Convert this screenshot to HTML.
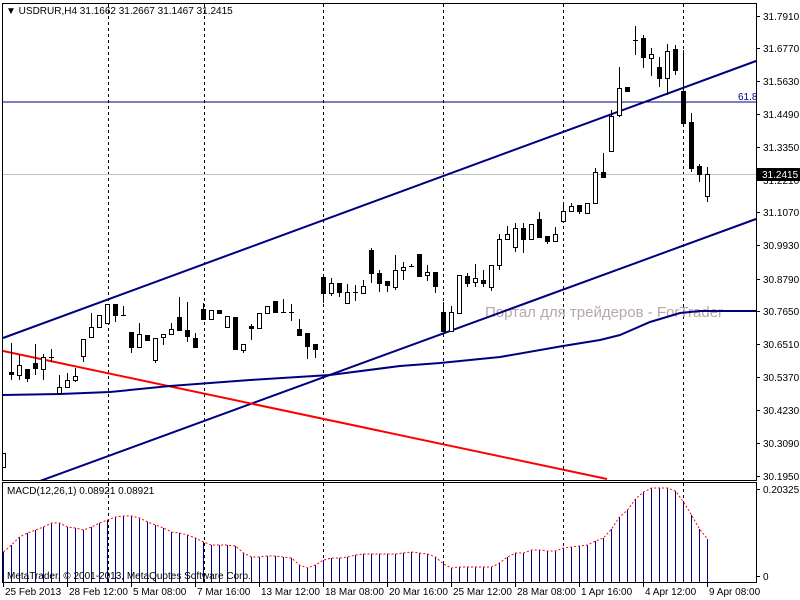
<!DOCTYPE html>
<html><head><meta charset="utf-8"><style>
html,body{margin:0;padding:0;background:#fff;}
svg{display:block;font-family:"Liberation Sans",sans-serif;font-size:10px;}
</style></head><body>
<svg id="s" width="800" height="600" xmlns="http://www.w3.org/2000/svg">
<rect width="800" height="600" fill="#fff"/>
<defs><clipPath id="c1"><rect x="3" y="4" width="753" height="476"/></clipPath></defs>
<g id="grid"></g>
<g clip-path="url(#c1)">
<text x="485" y="317" fill="#b4a8a8" font-size="15">Портал для трейдеров - ForTrader</text>
<line x1="3" y1="102" x2="756" y2="102" stroke="#000080" stroke-width="1"/>
<line x1="3" y1="174.5" x2="756" y2="174.5" stroke="#c0c0c0" stroke-width="1"/>
<line x1="3" y1="338" x2="756" y2="61" stroke="#000080" stroke-width="2"/>
<line x1="40" y1="481" x2="756" y2="219" stroke="#000080" stroke-width="2"/>
<line x1="3" y1="351" x2="607" y2="479" stroke="#ff0000" stroke-width="2"/>
<polyline fill="none" stroke="#000080" stroke-width="2" points="3,395 60,394 110,392 170,386 250,380 330,375 400,366 440,363 500,357 563,346 600,340 620,335 650,322 680,313 700,311 756,311"/>
<g id="candles"></g>
</g>
<text x="738" y="100" fill="#000080">61.8</text>
<g id="macd"></g>
<text x="6" y="14" fill="#000">▼ USDRUR,H4  31.1662 31.2667 31.1467 31.2415</text>
<text x="7" y="494" fill="#000">MACD(12,26,1) 0.08921 0.08921</text>
<text x="7" y="579" fill="#000">MetaTrader, © 2001-2013, MetaQuotes Software Corp.</text>
<rect x="2.5" y="3.5" width="754" height="477" fill="none" stroke="#000"/>
<rect x="2.5" y="482.5" width="754" height="100" fill="none" stroke="#000"/>
<g id="axis"></g>
</svg>
<script>
var NS="http://www.w3.org/2000/svg";
function el(p,t,a,txt){var e=document.createElementNS(NS,t);for(var k in a)e.setAttribute(k,a[k]);if(txt!=null)e.textContent=txt;document.getElementById(p).appendChild(e);return e;}
// vertical dashed
[108,204,323,443,563,683].forEach(function(x){
 el("grid","line",{x1:x+.5,y1:4,x2:x+.5,y2:480,stroke:"#000","stroke-dasharray":"3,3"});
 el("grid","line",{x1:x+.5,y1:483,x2:x+.5,y2:582,stroke:"#000","stroke-dasharray":"3,3"});
});
// candles [top,bottom,high,low,black]
var C=[
[453,467,453,467,0],[372,374,343,380,1],[365,375,355,380,0],[369,378,369,382,1],[363,368,344,375,1],[357,369,354,380,0],[357,357,349,362,0],[387,393,375,393,0],[380,387,373,387,0],[376,380,368,382,0],
[339,356,339,362,0],[327,337,313,337,0],[315,327,315,327,0],[304,323,304,323,0],[304,315,304,322,1],[315,315,306,315,0],[332,347,332,353,1],[334,347,323,347,0],[335,340,335,340,1],[338,360,338,363,0],
[334,337,334,345,0],[329,334,323,334,0],[317,330,297,330,1],[330,336,302,342,1],[338,347,333,347,1],[309,319,303,319,1],[310,319,310,319,0],[310,313,310,313,1],[316,327,316,327,0],[317,349,317,349,1],
[344,350,344,353,0],[326,328,324,340,1],[313,328,313,328,0],[306,313,306,313,0],[301,312,301,312,1],[312,312,299,312,0],[312,312,304,321,0],[329,335,319,335,1],[333,346,333,359,1],[344,349,344,358,1],
[277,293,277,303,1],[283,293,278,296,0],[283,292,283,297,1],[292,303,284,303,0],[292,292,285,301,0],[286,293,280,293,0],[250,273,248,283,1],[273,283,270,292,1],[281,285,281,292,1],[270,287,255,290,0],
[267,270,262,280,0],[266,266,264,266,0],[254,276,254,276,1],[272,275,265,281,0],[272,286,272,293,1],[312,331,302,331,1],[312,331,306,331,0],[275,313,275,313,0],[276,283,273,287,1],[278,282,264,287,0],
[280,283,270,287,1],[265,287,265,291,0],[239,265,234,270,0],[234,239,226,239,0],[228,247,223,252,0],[228,239,223,253,1],[224,239,224,239,0],[219,237,212,237,1],[236,241,236,244,1],[234,241,227,241,0],
[211,221,203,221,0],[206,211,203,211,0],[205,211,205,214,1],[203,213,203,213,0],[172,203,168,203,0],[172,177,153,178,1],[116,151,110,151,0],[88,115,67,117,0],[87,91,87,91,1],[40,40,26,55,0],
[38,57,35,68,1],[54,58,48,76,0],[67,78,57,87,1],[51,78,44,95,0],[49,70,45,75,1],[91,123,50,123,1],[122,168,113,172,1],[166,174,164,182,1],[174,196,167,202,0]];
C.forEach(function(c,i){var x=3+8*i+.5;
 el("candles","line",{x1:x,y1:c[2],x2:x,y2:c[3],stroke:"#000"});
 if(c[1]-c[0]<1){el("candles","line",{x1:x-2.5,y1:c[0]+.5,x2:x+2.5,y2:c[0]+.5,stroke:"#000"});}
 else el("candles","rect",{x:x-2,y:c[0]+.5,width:4,height:c[1]-c[0],fill:c[4]?"#000":"#fff",stroke:"#000"});
});
// MACD
var M=[552,545,537,533,530,527,523,523,527,528,530,527,523,520,517,516,516,518,522,525,528,532,533,535,538,542,545,545,545,546,553,557,557,556,556,557,558,565,568,565,560,558,558,557,555,554,554,554,554,554,
553,552,553,554,557,564,568,567,567,567,567,567,563,557,553,553,550,550,551,551,548,547,546,545,541,538,529,517,510,499,492,488,488,488,491,502,515,529,539];
var pts=[];
M.forEach(function(y,i){var x=3+8*i+.5;el("macd","line",{x1:x,y1:y,x2:x,y2:582,stroke:"#000080"});pts.push(x+","+y);});
el("macd","polyline",{points:pts.join(" "),fill:"none",stroke:"#ff0000","stroke-dasharray":"2,2"});
// price axis
var L=[["31.7910",16],["31.6770",48],["31.5630",81],["31.4490",114],["31.3350",147],["31.2210",180],["31.1070",212],["30.9930",245],["30.8790",279],["30.7650",311],["30.6510",344],["30.5370",377],["30.4230",410],["30.3090",443],["30.1950",476]];
L.forEach(function(l){el("axis","line",{x1:756,y1:l[1]+.5,x2:760,y2:l[1]+.5,stroke:"#000"});el("axis","text",{x:763,y:l[1]+4,fill:"#000"},l[0]);});
el("axis","rect",{x:757,y:168,width:43,height:13,fill:"#000"});
el("axis","text",{x:762,y:178,fill:"#fff"},"31.2415");
el("axis","line",{x1:756,y1:489.5,x2:760,y2:489.5,stroke:"#000"});
el("axis","text",{x:763,y:493,fill:"#000"},"0.20325");
el("axis","line",{x1:756,y1:576.5,x2:760,y2:576.5,stroke:"#000"});
el("axis","text",{x:763,y:580,fill:"#000"},"0");
var T=[["25 Feb 2013",3],["28 Feb 12:00",67],["5 Mar 08:00",131],["7 Mar 16:00",195],["13 Mar 12:00",259],["18 Mar 08:00",323],["20 Mar 16:00",387],["25 Mar 12:00",451],["28 Mar 08:00",515],["1 Apr 16:00",579],["4 Apr 12:00",643],["9 Apr 08:00",707]];
T.forEach(function(t){el("axis","line",{x1:t[1]+.5,y1:583,x2:t[1]+.5,y2:587,stroke:"#000"});el("axis","text",{x:t[1]+2,y:595,fill:"#000"},t[0]);});
</script>
</body></html>
